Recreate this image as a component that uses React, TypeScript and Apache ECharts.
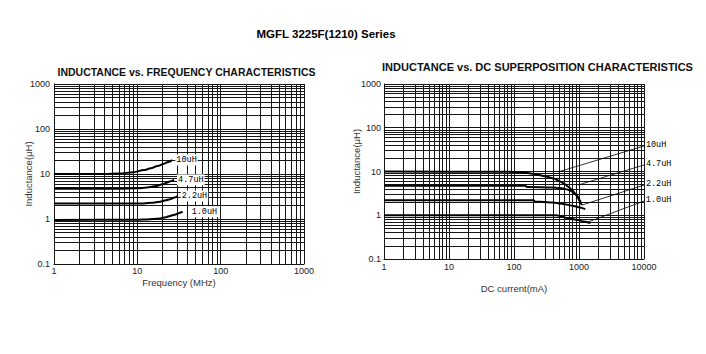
import React, { useEffect, useRef } from "react";
import * as echarts from "echarts";

// ---- axis structure ----
const freqDecades = [1, 10, 100, 1000];
const dcDecades = [1, 10, 100, 1000, 10000];
const inductDecades = [0.1, 1, 10, 100, 1000];
const gridSteps = [1, 2, 3, 4, 5, 6, 7, 8, 9];

// ---- series names ----
const seriesNames = ["10uH", "4.7uH", "2.2uH", "1.0uH"];

// ---- Inductance vs Frequency (MHz, uH) ----
const freq10uH = [[1, 10], [4, 10], [6, 10.2], [9, 11], [12, 12.2], [14.5, 13.4], [17.5, 15], [20.5, 16.7], [23.5, 18.5], [26.3, 20.5]];
const freq4u7H = [[1, 4.7], [6, 4.7], [10, 4.8], [13, 5.0], [17, 5.4], [20, 5.9], [22.5, 6.4], [25, 6.9], [27.6, 7.4]];
const freq2u2H = [[1, 2.2], [8, 2.2], [12, 2.22], [15, 2.3], [18.7, 2.43], [22, 2.6], [24.7, 2.74], [28, 3.0], [30.5, 3.25]];
const freq1u0H = [[1, 0.95], [10, 0.96], [13, 0.98], [18.7, 1.03], [22, 1.1], [24.7, 1.17], [28, 1.25], [32, 1.36], [35, 1.45]];

// ---- Inductance vs DC current (mA, uH) ----
const dc10uH = [[1, 10], [100, 9.8], [150, 9.4], [200, 8.8], [320, 7.6], [420, 6.8], [510, 5.9], [600, 5.2], [680, 4.5], [780, 3.8], [870, 3.2], [970, 2.5], [1070, 1.9]];
const dc4u7H = [[1, 4.7], [150, 4.7], [160, 4.4], [400, 4.3], [570, 4.1], [730, 3.7], [920, 2.9], [1040, 2.05], [1100, 1.7]];
const dc2u2H = [[1, 2.2], [200, 2.2], [210, 2.05], [400, 1.95], [570, 1.81], [800, 1.65], [1000, 1.53], [1250, 1.38]];
const dc1u0H = [[1, 1.0], [450, 1.0], [500, 0.96], [650, 0.87], [900, 0.79], [1200, 0.72], [1500, 0.66]];

// leader lines: start point on curve, end at right border (x = 10000)
const dcLeaderStart = [[475, 9.75], [965, 4.9], [1112, 1.71], [1375, 0.7]];
const dcLeaderEndY = [38.3, 14.1, 4.9, 2.12];

const freqLabelDistance = [3, 3, 3, 8];

function gridValues(decades: number[]) {
  const out: number[] = [];
  for (let i = 0; i < decades.length - 1; i++) {
    for (const s of gridSteps) out.push(decades[i] * s);
  }
  out.push(decades[decades.length - 1]);
  return out;
}

const fmt = (v: number) => String(+Number(v).toPrecision(6));

const GRID_COLOR = "#161616";
const labelFont = "Liberation Sans";
const monoFont = "Liberation Mono";

function gridSeries(idx: number, xDec: number[]) {
  const xs = gridValues(xDec).map((v) => ({ xAxis: v }));
  const ys = gridValues(inductDecades).map((v) => ({ yAxis: v }));
  return {
    type: "line",
    xAxisIndex: idx,
    yAxisIndex: idx,
    data: [[xDec[0], 1]],
    symbol: "none",
    lineStyle: { opacity: 0 },
    silent: true,
    z: 1,
    markLine: {
      silent: true,
      symbol: ["none", "none"],
      label: { show: false },
      emphasis: { disabled: true },
      lineStyle: { color: GRID_COLOR, width: 1, type: "solid" },
      data: [...xs, ...ys],
    },
  };
}

export default function App() {
  const ref = useRef<HTMLDivElement>(null);
  useEffect(() => {
    if (!ref.current) return;
    const chart = echarts.init(ref.current, undefined, { renderer: "svg" });

    const freqData = [freq10uH, freq4u7H, freq2u2H, freq1u0H];
    const dcData = [dc10uH, dc4u7H, dc2u2H, dc1u0H];

    const axisLabel = { fontSize: 9, color: "#222", fontFamily: labelFont, formatter: fmt };
    const nameStyle = { fontSize: 9.5, color: "#333", fontFamily: labelFont };

    const freqSeries = seriesNames.map((name, i) => ({
      type: "line",
      name,
      xAxisIndex: 0,
      yAxisIndex: 0,
      data: freqData[i],
      symbol: "none",
      smooth: 0.3,
      smoothMonotone: "x",
      lineStyle: { color: "#000", width: 2 },
      z: 5,
      endLabel: {
        show: true,
        formatter: name,
        distance: freqLabelDistance[i],
        fontFamily: monoFont,
        fontSize: 8.5,
        color: "#000",
        backgroundColor: "#fff",
        padding: [1, 1],
      },
    }));

    const dcSeries = seriesNames.map((name, i) => ({
      type: "line",
      name,
      xAxisIndex: 1,
      yAxisIndex: 1,
      data: dcData[i],
      symbol: "none",
      smooth: 0.2,
      smoothMonotone: "x",
      lineStyle: { color: "#000", width: 2 },
      z: 5,
      markLine: {
        silent: true,
        symbol: ["none", "none"],
        emphasis: { disabled: true },
        lineStyle: { color: "#000", width: 0.8, type: "solid" },
        label: {
          show: true,
          position: "end",
          formatter: () => name,
          fontFamily: monoFont,
          fontSize: 8.5,
          color: "#000",
          distance: 2,
        },
        data: [[{ coord: dcLeaderStart[i] }, { coord: [dcDecades[dcDecades.length - 1], dcLeaderEndY[i]] }]],
      },
    }));

    chart.setOption({
      animation: false,
      backgroundColor: "#fff",
      graphic: [
        {
          type: "text",
          x: 326,
          y: 34,
          style: { text: "MGFL 3225F(1210) Series", font: `bold 11.5px "${labelFont}", Arial, sans-serif`, fill: "#000", align: "center", verticalAlign: "middle" },
        },
        {
          type: "text",
          x: 186.5,
          y: 72,
          style: { text: "INDUCTANCE vs. FREQUENCY CHARACTERISTICS", font: `bold 10.5px "${labelFont}", Arial, sans-serif`, fill: "#111", align: "center", verticalAlign: "middle" },
        },
        {
          type: "text",
          x: 537.5,
          y: 67,
          style: { text: "INDUCTANCE vs. DC SUPERPOSITION CHARACTERISTICS", font: `bold 11px "${labelFont}", Arial, sans-serif`, fill: "#111", align: "center", verticalAlign: "middle" },
        },
      ],
      grid: [
        { left: 54, top: 84, width: 250, height: 180, containLabel: false },
        { left: 384, top: 84, width: 260, height: 175, containLabel: false },
      ],
      xAxis: [
        {
          type: "log", gridIndex: 0, logBase: 10, min: freqDecades[0], max: freqDecades[freqDecades.length - 1],
          splitLine: { show: false }, axisTick: { show: false },
          axisLine: { show: true, lineStyle: { color: "#000" } },
          axisLabel: { ...axisLabel, margin: 2 },
          name: "Frequency (MHz)", nameLocation: "middle", nameGap: 13, nameMoveOverlap: false, nameTextStyle: nameStyle,
        },
        {
          type: "log", gridIndex: 1, logBase: 10, min: dcDecades[0], max: dcDecades[dcDecades.length - 1],
          splitLine: { show: false }, axisTick: { show: false },
          axisLine: { show: true, lineStyle: { color: "#000" } },
          axisLabel: { ...axisLabel, margin: 3 },
          name: "DC current(mA)", nameLocation: "middle", nameGap: 24, nameMoveOverlap: false, nameTextStyle: nameStyle,
        },
      ],
      yAxis: [
        {
          type: "log", gridIndex: 0, logBase: 10, min: inductDecades[0], max: inductDecades[inductDecades.length - 1],
          splitLine: { show: false }, axisTick: { show: false },
          axisLine: { show: true, lineStyle: { color: "#000" } },
          axisLabel: { ...axisLabel, margin: 4 },
          name: "Inductance(μH)", nameLocation: "middle", nameGap: 21, nameMoveOverlap: false, nameTextStyle: nameStyle,
        },
        {
          type: "log", gridIndex: 1, logBase: 10, min: inductDecades[0], max: inductDecades[inductDecades.length - 1],
          splitLine: { show: false }, axisTick: { show: false },
          axisLine: { show: true, lineStyle: { color: "#000" } },
          axisLabel: { ...axisLabel, margin: 3 },
          name: "Inductance(μH)", nameLocation: "middle", nameGap: 23, nameMoveOverlap: false, nameTextStyle: { ...nameStyle, padding: [0, 0, 0, 20] },
        },
      ],
      series: [gridSeries(0, freqDecades), gridSeries(1, dcDecades), ...freqSeries, ...dcSeries],
    });

    return () => chart.dispose();
  }, []);

  return (
    <div
      ref={ref}
      style={{ position: "fixed", left: 0, top: 0, width: 706, height: 354, background: "#fff" }}
    />
  );
}
